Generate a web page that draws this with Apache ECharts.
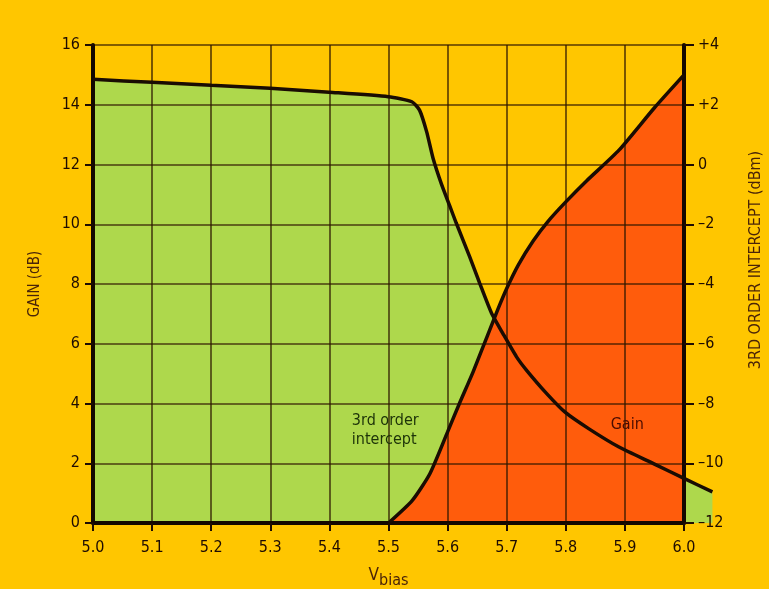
<!DOCTYPE html>
<html>
<head>
<meta charset="utf-8">
<script src="https://cdn.jsdelivr.net/npm/echarts@6/dist/echarts.min.js"></script>
<style>
  html, body { margin: 0; padding: 0; background: #FFC600; }
  #chart { width: 769px; height: 589px; }
</style>
</head>
<body>
<div id="chart"></div>
<script>
// Bias voltage sweep: gain (left axis, dB) and 3rd order intercept (right axis, dBm)
const vbiasTicks = [5.0, 5.1, 5.2, 5.3, 5.4, 5.5, 5.6, 5.7, 5.8, 5.9, 6.0];

const gainV  = [5.00, 5.10, 5.20, 5.30, 5.40, 5.50, 5.54, 5.553, 5.565, 5.576, 5.59, 5.604, 5.615, 5.638, 5.655, 5.675, 5.694, 5.717, 5.734, 5.768, 5.80, 5.84, 5.89, 5.95, 6.00, 6.049];
const gainDb = [14.85, 14.75, 14.65, 14.55, 14.42, 14.27, 14.1, 13.82, 13.1, 12.2, 11.35, 10.62, 10.05, 8.91, 8.02, 7.02, 6.35, 5.57, 5.12, 4.34, 3.70, 3.15, 2.55, 1.98, 1.50, 1.04];

const ipV   = [5.50, 5.54, 5.57, 5.60, 5.62, 5.643, 5.666, 5.685, 5.70, 5.72, 5.745, 5.77, 5.80, 5.835, 5.89, 5.95, 6.00];
const ipDbm = [-12, -11.25, -10.35, -8.95, -8.0, -6.95, -5.8, -4.85, -4.15, -3.35, -2.55, -1.9, -1.25, -0.55, 0.48, 1.9, 3.0];

const gainTicks = [0, 2, 4, 6, 8, 10, 12, 14, 16];
const ipTicks = [-12, -10, -8, -6, -4, -2, 0, 2, 4];

const pairs = (xs, ys) => xs.map((x, i) => [x, ys[i]]);

const ink = '#1e0c02';
const nameInk = '#4a2408';
const gridInk = 'rgba(45, 22, 0, 0.8)';
const condensed = 'DejaVu Sans Condensed, Liberation Sans Narrow, sans-serif';
const tickFont = { color: ink, fontSize: 16, fontFamily: condensed };
const smoothing = 0.2;

const chart = echarts.init(document.getElementById('chart'), null, { renderer: 'canvas' });

chart.setOption({
  backgroundColor: '#FFC600',
  animation: false,
  grid: [
    // main plot frame
    { left: 93, right: 85, top: 45, bottom: 66, containLabel: false, outerBoundsMode: 'none' },
    // same frame widened to 6.05 V so the gain trace can run past the right axis
    { left: 93, right: 56, top: 45, bottom: 66, containLabel: false, outerBoundsMode: 'none' }
  ],
  xAxis: [
    {
      type: 'value', gridIndex: 0, min: 5.0, max: 6.0, interval: 0.1, z: 2,
      name: '{v|V}{s|bias}', nameLocation: 'middle', nameGap: 40,
      nameTextStyle: {
        rich: {
          v: { fontSize: 17, color: nameInk, fontFamily: condensed },
          s: { fontSize: 16, color: nameInk, fontFamily: condensed, padding: [10, 0, 0, 0] }
        }
      },
      axisLine: { show: true, onZero: false, lineStyle: { color: '#140800', width: 4 } },
      axisTick: { show: true, length: 8, lineStyle: { color: ink, width: 2 } },
      axisLabel: Object.assign({ margin: 17, formatter: v => v.toFixed(1) }, tickFont),
      splitLine: { show: true, lineStyle: { color: gridInk, width: 1.6 } }
    },
    {
      type: 'value', gridIndex: 1, min: 5.0, max: 6.05, show: false,
      splitLine: { show: false }
    }
  ],
  yAxis: [
    {
      type: 'value', gridIndex: 0, min: 0, max: 16, interval: 2, position: 'left', z: 2,
      name: 'GAIN (dB)', nameLocation: 'middle', nameGap: 50, nameRotate: 90,
      nameTextStyle: { color: nameInk, fontSize: 15, fontFamily: condensed },
      axisLine: { show: true, onZero: false, lineStyle: { color: '#140800', width: 4 } },
      axisTick: { show: true, length: 8, lineStyle: { color: ink, width: 2 } },
      axisLabel: Object.assign({ margin: 13 }, tickFont),
      splitLine: { show: true, lineStyle: { color: gridInk, width: 1.6 } }
    },
    {
      type: 'value', gridIndex: 0, min: -12, max: 4, interval: 2, position: 'right', z: 2,
      name: '3RD ORDER INTERCEPT (dBm)', nameLocation: 'middle', nameGap: 64, nameRotate: 90,
      nameTextStyle: { color: nameInk, fontSize: 16, fontFamily: condensed, padding: [0, 0, 0, 48] },
      axisLine: { show: true, onZero: false, lineStyle: { color: '#140800', width: 4 } },
      axisTick: { show: true, length: 10, lineStyle: { color: ink, width: 2 } },
      axisLabel: Object.assign({ margin: 14, formatter: v => (v > 0 ? '+' + v : (v < 0 ? '\u2013' + Math.abs(v) : '0')) }, tickFont),
      splitLine: { show: false }
    },
    {
      type: 'value', gridIndex: 1, min: 0, max: 16, show: false,
      splitLine: { show: false }
    }
  ],
  series: [
    // shaded areas under each curve (drawn beneath the grid)
    {
      type: 'line', data: pairs(gainV, gainDb), xAxisIndex: 1, yAxisIndex: 2, z: 1,
      symbol: 'none', smooth: smoothing, lineStyle: { width: 0 },
      areaStyle: { color: '#AED84C', opacity: 1, origin: 'start' }
    },
    {
      type: 'line', data: pairs(ipV, ipDbm), xAxisIndex: 0, yAxisIndex: 1, z: 1,
      symbol: 'none', smooth: smoothing, lineStyle: { width: 0 },
      areaStyle: { color: '#FF5C0C', opacity: 1, origin: 'start' }
    },
    // the curves themselves, on top of the grid
    {
      type: 'line', data: pairs(gainV, gainDb), xAxisIndex: 1, yAxisIndex: 2, z: 3,
      symbol: 'none', smooth: smoothing, lineStyle: { color: '#1a0c02', width: 3.5 }
    },
    {
      type: 'line', data: pairs(ipV, ipDbm), xAxisIndex: 0, yAxisIndex: 1, z: 3,
      symbol: 'none', smooth: smoothing, lineStyle: { color: '#1a0c02', width: 3.5 }
    }
  ]
});

// curve annotations placed in data coordinates
const ipLabelAt = [5.438, 3.1];
const gainLabelAt = [5.904, 3.28];
const p1 = chart.convertToPixel({ xAxisIndex: 0, yAxisIndex: 0 }, ipLabelAt);
const p2 = chart.convertToPixel({ xAxisIndex: 0, yAxisIndex: 0 }, gainLabelAt);
chart.setOption({
  graphic: [
    {
      type: 'text', x: p1[0], y: p1[1], z: 10,
      style: { text: '3rd order\nintercept', fill: '#1c3208', fontSize: 16, lineHeight: 19,
               fontFamily: condensed, textAlign: 'left', textVerticalAlign: 'middle' }
    },
    {
      type: 'text', x: p2[0], y: p2[1], z: 10,
      style: { text: 'Gain', fill: '#4a0c00', fontSize: 16,
               fontFamily: condensed, textAlign: 'center', textVerticalAlign: 'middle' }
    }
  ]
});
</script>
</body>
</html>
